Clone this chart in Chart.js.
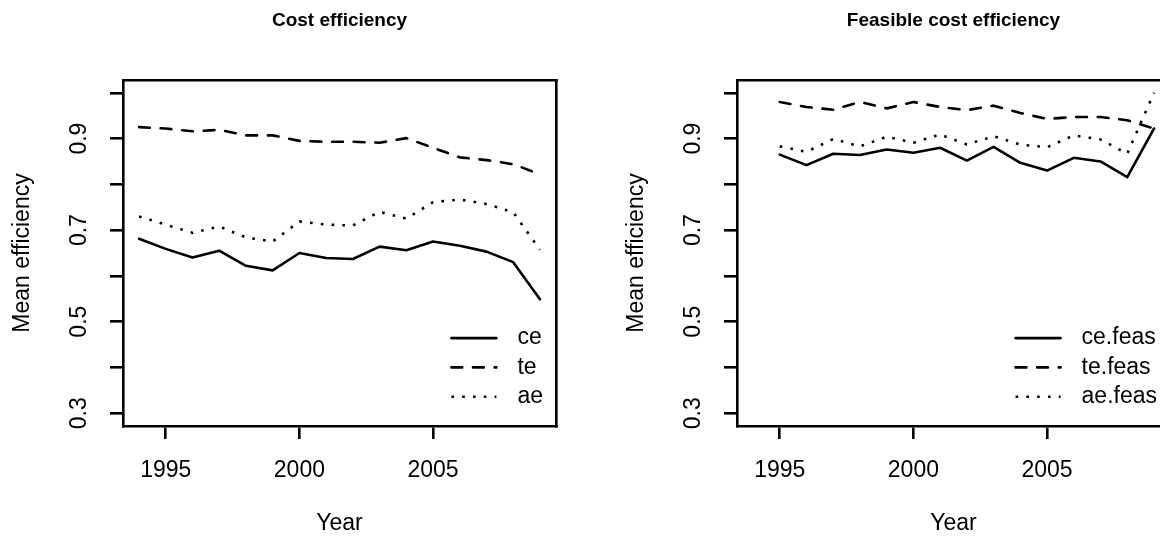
<!DOCTYPE html>
<html><head><meta charset="utf-8">
<script src="https://cdn.jsdelivr.net/npm/chart.js@4.4.1/dist/chart.umd.min.js"></script>
<style>
html,body{margin:0;padding:0;width:1160px;height:537px;overflow:hidden;background:#fff;}
canvas{position:absolute;top:0;}
#c1{left:0;}
#c2{left:614px;}
</style></head><body>
<canvas id="c1" width="580" height="537"></canvas>
<canvas id="c2" width="580" height="537"></canvas>
<script>
// ---- data ----
const yearsCost = [1994,1995,1996,1997,1998,1999,2000,2001,2002,2003,2004,2005,2006,2007,2008,2009];
const ce = [0.681,0.659,0.640,0.655,0.622,0.612,0.650,0.639,0.637,0.664,0.656,0.675,0.666,0.653,0.630,0.549];
const te = [0.925,0.922,0.916,0.919,0.907,0.907,0.895,0.893,0.893,0.891,0.901,0.880,0.859,0.853,0.844,0.822];
const ae = [0.730,0.712,0.694,0.708,0.684,0.675,0.719,0.712,0.710,0.740,0.725,0.761,0.767,0.757,0.739,0.657];

const yearsFeas = [1995,1996,1997,1998,1999,2000,2001,2002,2003,2004,2005,2006,2007,2008,2009];
const ceFeas = [0.865,0.842,0.867,0.864,0.876,0.869,0.880,0.852,0.882,0.847,0.830,0.858,0.850,0.816,0.922];
const teFeas = [0.980,0.969,0.963,0.980,0.966,0.980,0.969,0.962,0.972,0.956,0.943,0.947,0.947,0.940,0.922];
const aeFeas = [0.883,0.871,0.899,0.883,0.904,0.891,0.909,0.887,0.905,0.887,0.881,0.907,0.898,0.867,1.000];

const seriesLabelsCost = ['ce','te','ae'];
const seriesLabelsFeas = ['ce.feas','te.feas','ae.feas'];
const panelTitles = ['Cost efficiency','Feasible cost efficiency'];
const xTitle = 'Year';
const yTitle = 'Mean efficiency';
const xTickValues = [1995,2000,2005];
const yTickValues = [0.3,0.4,0.5,0.6,0.7,0.8,0.9,1.0];
const yTickLabels = ['0.3','','0.5','','0.7','','0.9',''];
const xRange = [1993.4, 2009.6];
const yRange = [0.272, 1.028];

// ---- styling ----
const FONT = '"Liberation Sans", Arial, Helvetica, sans-serif';
const FS = 23;
const LW = 2.6;
Chart.defaults.color = '#000';
Chart.defaults.font.family = FONT;

const lineStyles = [
  {borderDash: [], borderCapStyle: 'round'},
  {borderDash: [10.8, 10.8], borderCapStyle: 'round'},
  {borderDash: [2.6, 8.2], borderCapStyle: 'butt'}
];

const rLegend = {
  id: 'rLegend',
  afterDatasetsDraw(chart) {
    const {ctx, chartArea} = chart;
    const ds = chart.data.datasets;
    ctx.save();
    ctx.font = FS + 'px ' + FONT;
    const maxW = Math.max(...ds.map(d => ctx.measureText(d.label).width));
    const textX = chartArea.right - 13 - maxW;
    const x2 = textX - 21, x1 = x2 - 45;
    const rowGap = 29.3;
    ds.forEach((d, i) => {
      const y = chartArea.bottom - rowGap * (ds.length - i);
      ctx.beginPath();
      ctx.setLineDash(d.borderDash || []);
      ctx.lineCap = d.borderCapStyle || 'butt';
      ctx.lineWidth = d.borderWidth;
      ctx.strokeStyle = d.borderColor;
      ctx.moveTo(x1, y); ctx.lineTo(x2, y); ctx.stroke();
      ctx.setLineDash([]);
      ctx.fillStyle = '#000';
      ctx.textBaseline = 'middle';
      ctx.textAlign = 'left';
      ctx.fillText(d.label, textX, y);
    });
    ctx.restore();
  }
};

function makeChart(id, title, years, series, labels) {
  const datasets = series.map((vals, i) => Object.assign({
    label: labels[i],
    data: years.map((yr, j) => ({x: yr, y: vals[j]})),
    borderColor: '#000',
    borderWidth: LW,
    borderJoinStyle: 'round',
    pointRadius: 0,
    tension: 0,
    fill: false
  }, lineStyles[i]));
  const TITLE_PAD_TOP = 9, TITLE_FS = 19;
  const titleH = TITLE_PAD_TOP + TITLE_FS * 1.2;
  return new Chart(document.getElementById(id), {
    type: 'line',
    data: {datasets},
    plugins: [rLegend],
    options: {
      responsive: false,
      animation: false,
      devicePixelRatio: 1,
      layout: {padding: 0},
      plugins: {
        legend: {display: false},
        tooltip: {enabled: false},
        title: {
          display: true, text: title, fullSize: false,
          font: {size: TITLE_FS, weight: 'bold', family: FONT},
          color: '#000', padding: {top: TITLE_PAD_TOP, bottom: 0}
        }
      },
      scales: {
        x: {
          type: 'linear', position: 'bottom', min: xRange[0], max: xRange[1],
          afterBuildTicks: s => { s.ticks = xTickValues.map(v => ({value: v})); },
          afterFit: s => { s.height = 111; },
          ticks: {autoSkip: false, maxRotation: 0, minRotation: 0, padding: 18,
                  font: {size: FS}, color: '#000',
                  callback: v => String(v)},
          grid: {display: true, drawOnChartArea: false, drawTicks: true, tickLength: 13,
                 tickWidth: LW, tickColor: '#000', lineWidth: LW, color: '#000'},
          border: {display: true, color: '#000', width: LW},
          title: {display: true, text: xTitle, font: {size: FS}, color: '#000', padding: {top: 0, bottom: 0}}
        },
        x2: {
          type: 'linear', position: 'top', min: xRange[0], max: xRange[1],
          afterFit: s => { s.height = 80 - titleH; },
          ticks: {display: false},
          grid: {display: false, lineWidth: LW},
          border: {display: true, color: '#000', width: LW}
        },
        y: {
          type: 'linear', position: 'left', min: yRange[0], max: yRange[1],
          afterBuildTicks: s => { s.ticks = yTickValues.map(v => ({value: v})); },
          afterFit: s => { s.width = 123; },
          ticks: {autoSkip: false, minRotation: 90, maxRotation: 90, crossAlign: 'center', padding: 14,
                  font: {size: FS}, color: '#000',
                  callback: (v, i) => yTickLabels[i]},
          grid: {display: true, drawOnChartArea: false, drawTicks: true, tickLength: 13,
                 tickWidth: LW, tickColor: '#000', lineWidth: LW, color: '#000'},
          border: {display: true, color: '#000', width: LW},
          title: {display: true, text: yTitle, font: {size: FS}, color: '#000', padding: {top: 9, bottom: 0}}
        },
        y2: {
          type: 'linear', position: 'right', min: yRange[0], max: yRange[1],
          afterFit: s => { s.width = 24; },
          ticks: {display: false},
          grid: {display: false, lineWidth: LW},
          border: {display: true, color: '#000', width: LW}
        }
      }
    }
  });
}

makeChart('c1', panelTitles[0], yearsCost, [ce, te, ae], seriesLabelsCost);
makeChart('c2', panelTitles[1], yearsFeas, [ceFeas, teFeas, aeFeas], seriesLabelsFeas);
</script>
</body></html>
